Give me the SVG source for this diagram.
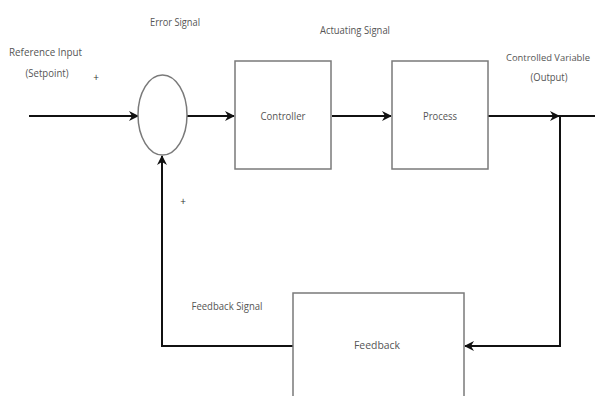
<svg xmlns="http://www.w3.org/2000/svg" width="595" height="396" viewBox="0 0 595 396">
<style>
text{font-family:"Open Sans","Liberation Sans",sans-serif;font-size:11px;fill:#555;}
.box{fill:#fff;stroke:#7a7a7a;stroke-width:1.5;}
.wire{fill:none;stroke:#111;stroke-width:2;}
.sign{font-size:10px;fill:#333;}
.cv{font-size:9.5px;}
</style>
<defs>
<marker id="ah" markerWidth="10" markerHeight="10" refX="9" refY="5" orient="auto" markerUnits="userSpaceOnUse">
<path d="M0,0 L10,5 L0,10 L3,5 Z" fill="#111"/>
</marker>
</defs>
<rect width="595" height="396" fill="#fff"/>
<g id="connectors">
<line class="wire" x1="29" y1="116" x2="138" y2="116" marker-end="url(#ah)"/>
<line class="wire" x1="187" y1="116" x2="234" y2="116" marker-end="url(#ah)"/>
<line class="wire" x1="332" y1="116" x2="391" y2="116" marker-end="url(#ah)"/>
<line class="wire" x1="488" y1="116" x2="559" y2="116" marker-end="url(#ah)"/>
<line class="wire" x1="555" y1="116" x2="595" y2="116"/>
<polyline class="wire" points="560,116 560,346 465,346" marker-end="url(#ah)"/>
<polyline class="wire" points="293,346 162,346 162,156" marker-end="url(#ah)"/>
</g>
<g id="summing">
<ellipse cx="162.5" cy="115" rx="24.5" ry="40" fill="#fff" stroke="#7a7a7a" stroke-width="1.5"/>
</g>
<g id="controller">
<rect class="box" x="235" y="61" width="96" height="108"/>
<text x="283" y="120" text-anchor="middle" textLength="45" lengthAdjust="spacingAndGlyphs">Controller</text>
</g>
<g id="process">
<rect class="box" x="392" y="61" width="96" height="108"/>
<text x="440" y="120" text-anchor="middle" textLength="34" lengthAdjust="spacingAndGlyphs">Process</text>
</g>
<g id="feedback">
<rect class="box" x="293" y="293" width="171" height="110"/>
<text x="377" y="349" text-anchor="middle" textLength="46" lengthAdjust="spacingAndGlyphs">Feedback</text>
</g>
<g id="labels">
<text x="175" y="26" text-anchor="middle" textLength="50" lengthAdjust="spacingAndGlyphs">Error Signal</text>
<text x="9" y="56" textLength="73" lengthAdjust="spacingAndGlyphs">Reference Input</text>
<text x="47" y="77" text-anchor="middle" textLength="43" lengthAdjust="spacingAndGlyphs">(Setpoint)</text>
<text class="sign" x="96" y="81" text-anchor="middle">+</text>
<text x="355" y="34" text-anchor="middle" textLength="70" lengthAdjust="spacingAndGlyphs">Actuating Signal</text>
<text class="cv" x="506" y="61" textLength="84" lengthAdjust="spacingAndGlyphs">Controlled Variable</text>
<text x="549" y="81" text-anchor="middle" textLength="37" lengthAdjust="spacingAndGlyphs">(Output)</text>
<text class="sign" x="183" y="205" text-anchor="middle">+</text>
<text x="227" y="310" text-anchor="middle" textLength="71" lengthAdjust="spacingAndGlyphs">Feedback Signal</text>
</g>
</svg>
